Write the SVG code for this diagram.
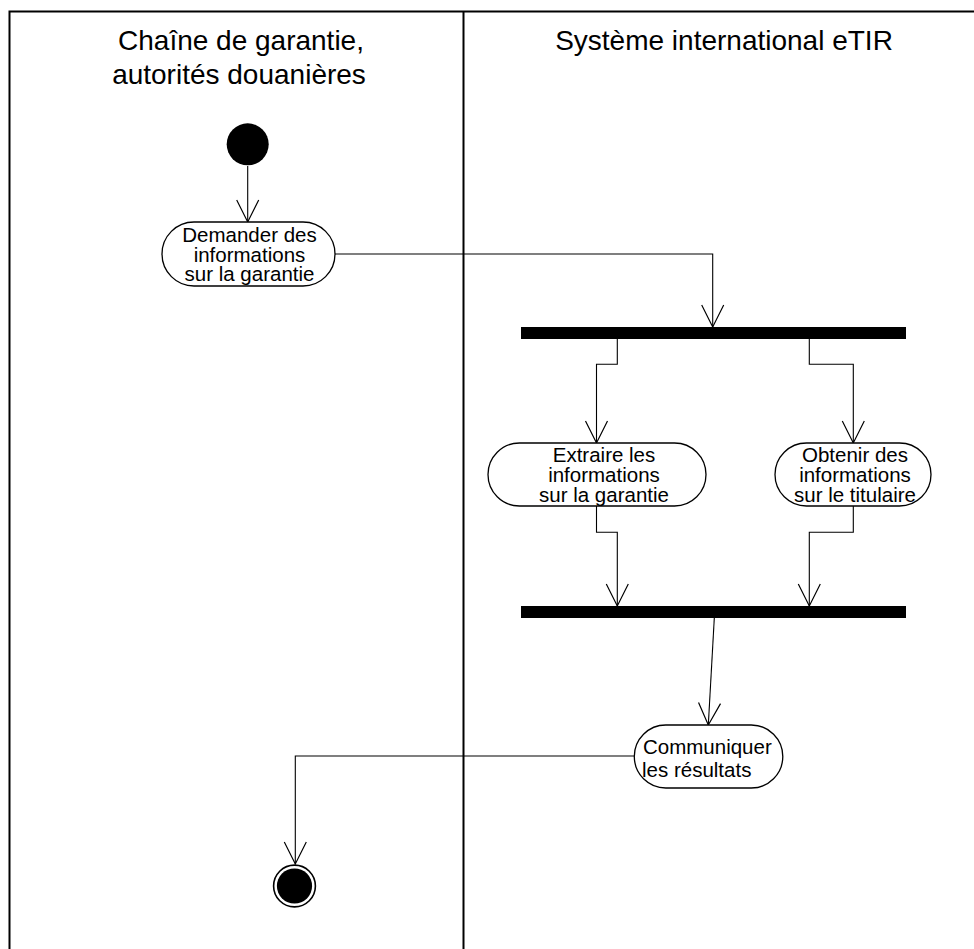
<svg xmlns="http://www.w3.org/2000/svg" width="974" height="949" viewBox="0 0 974 949">
<style>
  text { font-family: "Liberation Sans", Arial, sans-serif; fill: #000; }
  .title { font-size: 28px; text-anchor: middle; }
  .lbl { font-size: 20.5px; text-anchor: middle; }
  .lblL { font-size: 20.5px; text-anchor: start; }
  .frame { fill: none; stroke: #000; stroke-width: 2; }
  .act { fill: #fff; stroke: #000; stroke-width: 1.3; }
  .conn { fill: none; stroke: #000; stroke-width: 1.1; marker-end: url(#arr); }
  .bar { fill: #000; }
</style>
<defs>
  <marker id="arr" markerUnits="userSpaceOnUse" markerWidth="26" markerHeight="26" viewBox="-24 -13 26 26" refX="0" refY="0" orient="auto" overflow="visible">
    <path d="M-22,-11 L0,0 L-22,11" fill="none" stroke="#000" stroke-width="1.2"/>
  </marker>
</defs>
<rect width="974" height="949" fill="#fff"/>
<g id="swimlanes">
  <path class="frame" d="M9.5,960 L9.5,11.5 L990,11.5"/>
  <path class="frame" d="M463.5,11.5 L463.5,960"/>
  <text class="title" x="241" y="49.5">Chaîne de garantie,</text>
  <text class="title" x="239" y="84">autorités douanières</text>
  <text class="title" x="724" y="49.5">Système international eTIR</text>
</g>
<g id="connectors">
  <path class="conn" d="M247.7,166 L247.7,222"/>
  <path class="conn" d="M335,254 L712.7,254 L712.7,327"/>
  <path class="conn" d="M617.3,339 L617.3,364.3 L596.5,364.3 L596.5,443"/>
  <path class="conn" d="M809.3,339 L809.3,364.3 L853.3,364.3 L853.3,443"/>
  <path class="conn" d="M596.5,506 L596.5,532.3 L617.3,532.3 L617.3,606"/>
  <path class="conn" d="M853.3,506 L853.3,532.3 L809.3,532.3 L809.3,606"/>
  <path class="conn" d="M714.3,618 L708.3,725"/>
  <path class="conn" d="M634.3,756 L295.3,756 L295.3,864"/>
</g>
<g id="start">
  <circle cx="247.7" cy="144.3" r="21" fill="#000"/>
</g>
<g id="demander">
  <rect class="act" x="162" y="222" width="173" height="64" rx="32" ry="32"/>
  <text class="lbl" x="249.5" y="241.5">Demander des</text>
  <text class="lbl" x="249.5" y="261.5">informations</text>
  <text class="lbl" x="249.5" y="281">sur la garantie</text>
</g>
<g id="fork">
  <rect class="bar" x="521" y="327" width="385" height="12"/>
</g>
<g id="extraire">
  <rect class="act" x="488" y="443" width="218" height="63" rx="31.5" ry="31.5"/>
  <text class="lbl" x="604" y="462">Extraire les</text>
  <text class="lbl" x="604" y="482">informations</text>
  <text class="lbl" x="604" y="502">sur la garantie</text>
</g>
<g id="obtenir">
  <rect class="act" x="775" y="443" width="156" height="63" rx="31.5" ry="31.5"/>
  <text class="lbl" x="855" y="462">Obtenir des</text>
  <text class="lbl" x="855" y="482">informations</text>
  <text class="lbl" x="855" y="502">sur le titulaire</text>
</g>
<g id="join">
  <rect class="bar" x="521" y="606" width="385" height="12"/>
</g>
<g id="communiquer">
  <rect class="act" x="634.3" y="725" width="148.5" height="63" rx="31.5" ry="31.5"/>
  <text class="lblL" x="643" y="753.5">Communiquer</text>
  <text class="lblL" x="642" y="777">les résultats</text>
</g>
<g id="end">
  <circle cx="294.5" cy="886" r="20.9" fill="#fff" stroke="#000" stroke-width="1.6"/>
  <circle cx="294.5" cy="886" r="17.6" fill="#000"/>
</g>
</svg>
